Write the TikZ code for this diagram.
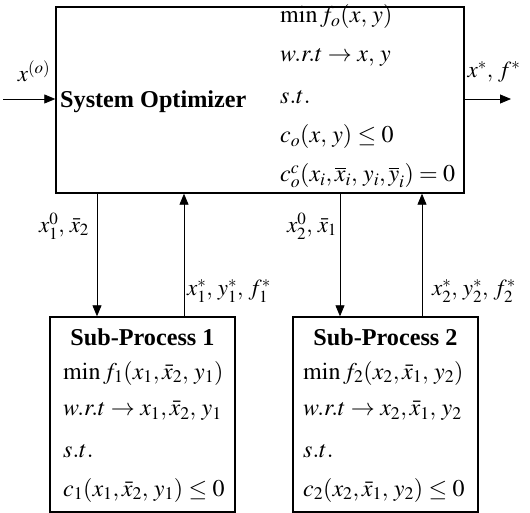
\documentclass[tikz,border=0pt]{standalone}
\usepackage{mathptmx}
\usepackage{fontspec}
\setmainfont{Liberation Serif}
\usetikzlibrary{arrows.meta}
\begin{document}
\begin{tikzpicture}[x=1pt,y=-1pt,
  box/.style={draw,line width=1.4pt,inner sep=0pt},
  arr/.style={line width=0.8pt,-{Triangle[length=11pt,width=9pt]}},
  txt/.style={inner sep=0pt,anchor=west,font=\fontsize{24}{28}\selectfont},
  ttl/.style={inner sep=0pt,font=\fontsize{24.2}{28}\selectfont\bfseries},
  lbl/.style={inner sep=0pt,font=\fontsize{23}{27}\selectfont}]
\useasboundingbox (0,0) rectangle (530,513);
% boxes
\node[box,minimum width=408pt,minimum height=186pt] (main) at (260,100) {};
\node[box,minimum width=185pt,minimum height=195pt] (sub1) at (142.5,414.5) {};
\node[box,minimum width=185pt,minimum height=195pt] (sub2) at (385.5,414.5) {};
% main text
\node[ttl,anchor=west] (mt) at (60,102) {System Optimizer};
\node[txt] (m1) at (280,17) {$\min f_o(x,\,y)$};
\node[txt] (m2) at (280,57) {$w.r.t\rightarrow x,\,y$};
\node[txt] (m3) at (280,97) {$s.t.$};
\node[txt] (m4) at (280,137) {$c_o(x,\,y)\leq 0$};
\node[txt] (m5) at (280,176) {$c_o^c(x_i,\overline{x}_i,\,y_i,\overline{y}_i)=0$};
% sub 1 text
\node[ttl] (s1t) at (142.5,337) {Sub-Process 1};
\node[txt] (s11) at (63,373) {$\min f_1(x_1,\bar{x}_{\mathrm{2}},\,y_1)$};
\node[txt] (s12) at (63,411) {$w.r.t\rightarrow x_1,\bar{x}_{\mathrm{2}},\,y_1$};
\node[txt] (s13) at (63,451) {$s.t.$};
\node[txt] (s14) at (63,490) {$c_1(x_1,\bar{x}_{\mathrm{2}},\,y_1)\leq 0$};
% sub 2 text
\node[ttl] (s2t) at (385.5,337) {Sub-Process 2};
\node[txt] (s21) at (303,373) {$\min f_2(x_2,\bar{x}_{\mathrm{1}},\,y_2)$};
\node[txt] (s22) at (303,411) {$w.r.t\rightarrow x_2,\bar{x}_{\mathrm{1}},\,y_2$};
\node[txt] (s23) at (303,451) {$s.t.$};
\node[txt] (s24) at (303,490) {$c_2(x_2,\bar{x}_{\mathrm{1}},\,y_2)\leq 0$};
% in/out
\coordinate (in) at (3,99);
\coordinate (out) at (511,99);
\draw[arr] (in) -- (in -| main.west);
\draw[arr] (out -| main.east) -- (out);
\node[lbl] (lin) at (34,71) {$x^{(o)}$};
\node[lbl] (lout) at (494,72) {$x^{*},\,f^{*}$};
% vertical
\coordinate (d1) at (97,0);
\coordinate (u1) at (184,0);
\coordinate (d2) at (340,0);
\coordinate (u2) at (422,0);
\draw[arr] (main.south -| d1) -- (sub1.north -| d1);
\draw[arr] (sub1.north -| u1) -- (main.south -| u1);
\draw[arr] (main.south -| d2) -- (sub2.north -| d2);
\draw[arr] (sub2.north -| u2) -- (main.south -| u2);
\node[lbl] (l1) at (64,226) {$x_1^0,\,\bar{x}_{\mathrm{2}}$};
\node[lbl,anchor=west] (l2) at (187,291) {$x_1^*,\,y_1^*,\,f_1^*$};
\node[lbl] (l3) at (312,226) {$x_2^0,\,\bar{x}_{\mathrm{1}}$};
\node[lbl,anchor=west] (l4) at (432,291) {$x_2^*,\,y_2^*,\,f_2^*$};
\end{tikzpicture}
\end{document}
